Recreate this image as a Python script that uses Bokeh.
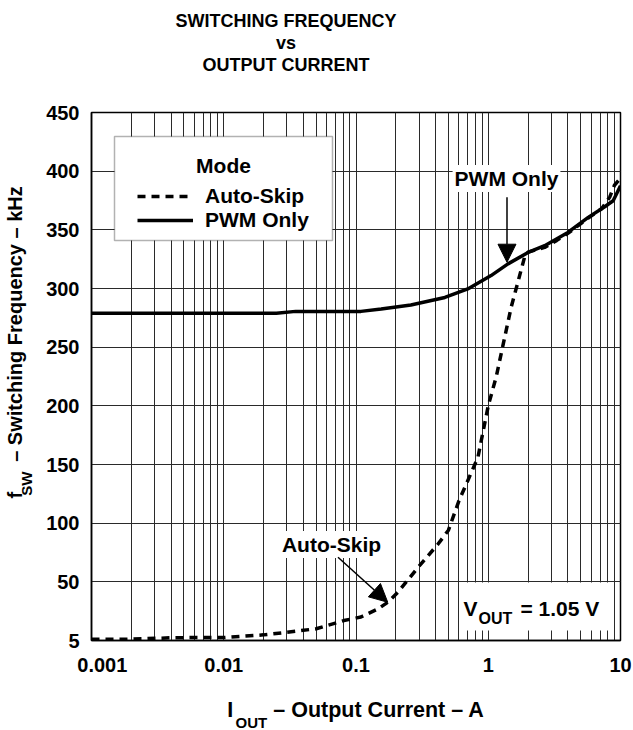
from bokeh.plotting import figure
from bokeh.models import (Range1d, FixedTicker, Label, Arrow, NormalHead,
                          BoxAnnotation, Legend, LegendItem, Title)
from bokeh.embed import file_html
from bokeh.resources import INLINE

# ---- data ----
current_pwm = [0.001, 0.002, 0.005, 0.01, 0.02, 0.025, 0.035, 0.06, 0.109, 0.155,
               0.26, 0.47, 0.70, 1.05, 1.41, 2.0, 2.67, 4.0, 5.7, 7.6, 8.8, 10]
freq_pwm = [279, 279, 279, 279, 279, 279, 280.5, 280.5, 280.5, 282.5,
            286, 292.4, 299.6, 311, 321, 330.7, 336.5, 347.8, 360.6, 369.7, 374.8, 387.6]

current_skip = [0.001, 0.0018, 0.0025, 0.004, 0.006, 0.01, 0.02, 0.03, 0.05, 0.081,
                0.109, 0.147, 0.174, 0.207, 0.293, 0.416, 0.5, 0.6, 0.835, 1.0,
                1.15, 1.49, 1.88, 2.0, 2.67, 3.3, 4.0, 5.7, 7.2, 8.3, 9.0, 10]
freq_skip = [1, 1, 1.5, 2.3, 2.5, 2.5, 4.8, 7, 10, 17,
             20, 27, 32.6, 41, 62, 82, 94, 119, 156, 200,
             225, 284, 326.5, 331, 335, 341, 347, 360, 368, 378, 388, 394]

x_ticks = [0.001, 0.01, 0.1, 1, 10]
x_tick_labels = ["0.001", "0.01", "0.1", "1", "10"]
y_ticks = [0, 50, 100, 150, 200, 250, 300, 350, 400, 450]
y_tick_labels = ["5", "50", "100", "150", "200", "250", "300", "350", "400", "450"]
series_names = ["Auto-Skip", "PWM Only"]
title_lines = ["SWITCHING FREQUENCY", "vs", "OUTPUT CURRENT"]

FONT = "Liberation Sans"
EM, EN, NB, HAIR = "\u2003", "\u2002", "\u00a0", "\u200a"
DASH = "\u2013"

p = figure(width=633, height=730, x_axis_type="log",
           x_range=Range1d(0.001, 10), y_range=Range1d(0, 450),
           output_backend="svg", toolbar_location=None, title=None,
           min_border_left=91, min_border_right=13,
           min_border_top=112, min_border_bottom=90)

p.outline_line_color = "black"
p.outline_line_width = 1.5
p.background_fill_color = "white"
p.border_fill_color = "white"

minor = [m * 10.0 ** d for d in range(-3, 1) for m in range(2, 10)]
p.xaxis.ticker = FixedTicker(ticks=x_ticks, minor_ticks=minor)
# the first label sits a little right of its tick in the reference
x_label_text = [EN * 2 + HAIR + x_tick_labels[0]] + x_tick_labels[1:]
p.xaxis.major_label_overrides = dict(zip(x_ticks, x_label_text))
p.yaxis.ticker = FixedTicker(ticks=y_ticks)
p.yaxis.major_label_overrides = dict(zip(y_ticks, y_tick_labels))

for ax in (p.xaxis, p.yaxis):
    ax.major_tick_out = 0
    ax.major_tick_in = 0
    ax.minor_tick_out = 0
    ax.minor_tick_in = 0
    ax.axis_line_color = "black"
    ax.axis_line_width = 1.5
    ax.major_label_text_font = FONT
    ax.major_label_text_font_style = "bold"
    ax.major_label_text_font_size = "20px"
    ax.major_label_text_color = "black"
    ax.axis_label_text_font = FONT
    ax.axis_label_text_font_style = "bold"
    ax.axis_label_text_color = "black"
p.xaxis.major_label_standoff = 13
p.yaxis.major_label_standoff = 12

# x axis label: main text (subscript drawn as a separate title below)
p.xaxis.axis_label = "I" + EN * 3 + NB + HAIR + DASH + " Output Current " + DASH + " A"
p.xaxis.axis_label_text_font_size = "21.5px"
p.xaxis.axis_label_standoff = 19
# y axis label: the subscript "SW" (main text drawn as a title on the left)
p.yaxis.axis_label = "SW" + EM * 14 + NB
p.yaxis.axis_label_text_font_size = "15px"
p.yaxis.axis_label_standoff = 8

p.xgrid.grid_line_color = "#2a2a2a"
p.xgrid.grid_line_width = 1
p.xgrid.minor_grid_line_color = "#2a2a2a"
p.xgrid.minor_grid_line_width = 1
p.ygrid.grid_line_color = "#2a2a2a"
p.ygrid.grid_line_width = 1

r_skip = p.line(current_skip, freq_skip, line_color="black", line_width=3.5,
                line_dash="8 6")
r_pwm = p.line(current_pwm, freq_pwm, line_color="black", line_width=3.5)


def title(text, place, size, **kw):
    p.add_layout(Title(text=text, text_font=FONT, text_font_style="bold",
                       text_font_size=size, text_color="black", **kw), place)


# chart title (stacked from the frame upward)
TPAD = EM * 7 + EN + NB
title(NB, "above", "18px", align="center", vertical_align="bottom", standoff=16)
for line in reversed(title_lines):
    title(line + TPAD, "above", "18px", align="center", vertical_align="bottom",
          standoff=0)

# subscript of the x label
title("OUT", "below", "15px", align="left", offset=144, vertical_align="top",
      standoff=-22)
# main y label
title("f" + EN * 3 + DASH + " Switching Frequency " + DASH + " kHz", "left", "20px",
      align="left", offset=142, vertical_align="bottom", standoff=-20)


def lab(text, x, y, size, align="left", baseline="alphabetic", **kw):
    p.add_layout(Label(x=x, y=y, x_units="screen", y_units="screen", text=text,
                       text_font=FONT, text_font_style="bold",
                       text_font_size=size, text_color="black",
                       text_align=align, text_baseline=baseline, **kw))


# legend box, title and entries
p.add_layout(BoxAnnotation(left=23, right=241, bottom=400, top=504,
                           left_units="screen", right_units="screen",
                           bottom_units="screen", top_units="screen",
                           fill_color="white", fill_alpha=1.0,
                           line_color="black", line_width=1.5))
lab("Mode", 132, 475, "21px", align="center", baseline="middle")
legend = Legend(items=[LegendItem(label=series_names[0], renderers=[r_skip]),
                       LegendItem(label=series_names[1], renderers=[r_pwm])],
                location=(46, 408),
                label_text_font=FONT, label_text_font_style="bold",
                label_text_font_size="21px", label_text_color="black",
                glyph_width=56, glyph_height=22, label_height=22,
                label_standoff=12, spacing=0, padding=0,
                border_line_color=None, background_fill_alpha=0.0)
p.add_layout(legend)

# annotations
lab("PWM Only", 415, 462, "21px", align="center", baseline="middle",
    background_fill_color="white", padding=2)
lab("Auto-Skip", 240, 96, "21px", align="center", baseline="middle",
    background_fill_color="white", padding=2)

p.add_layout(Arrow(end=NormalHead(size=18, fill_color="black", line_color="black"),
                   x_start=1.386, y_start=377.8, x_end=1.386, y_end=322.4,
                   line_color="black", line_width=1.5))
p.add_layout(Arrow(end=NormalHead(size=18, fill_color="black", line_color="black"),
                   x_start=0.0731, y_start=71, x_end=0.1738, y_end=32.6,
                   line_color="black", line_width=1.5))

p.add_layout(BoxAnnotation(left=369, right=519, bottom=10, top=58,
                           left_units="screen", right_units="screen",
                           bottom_units="screen", top_units="screen",
                           fill_color="white", fill_alpha=1.0, line_color=None))
lab("V", 372, 32, "21px")
lab("OUT", 387, 22, "16px")
lab("= 1.05 V", 429, 32, "21px")

open("out.html", "w").write(file_html(p, INLINE))
